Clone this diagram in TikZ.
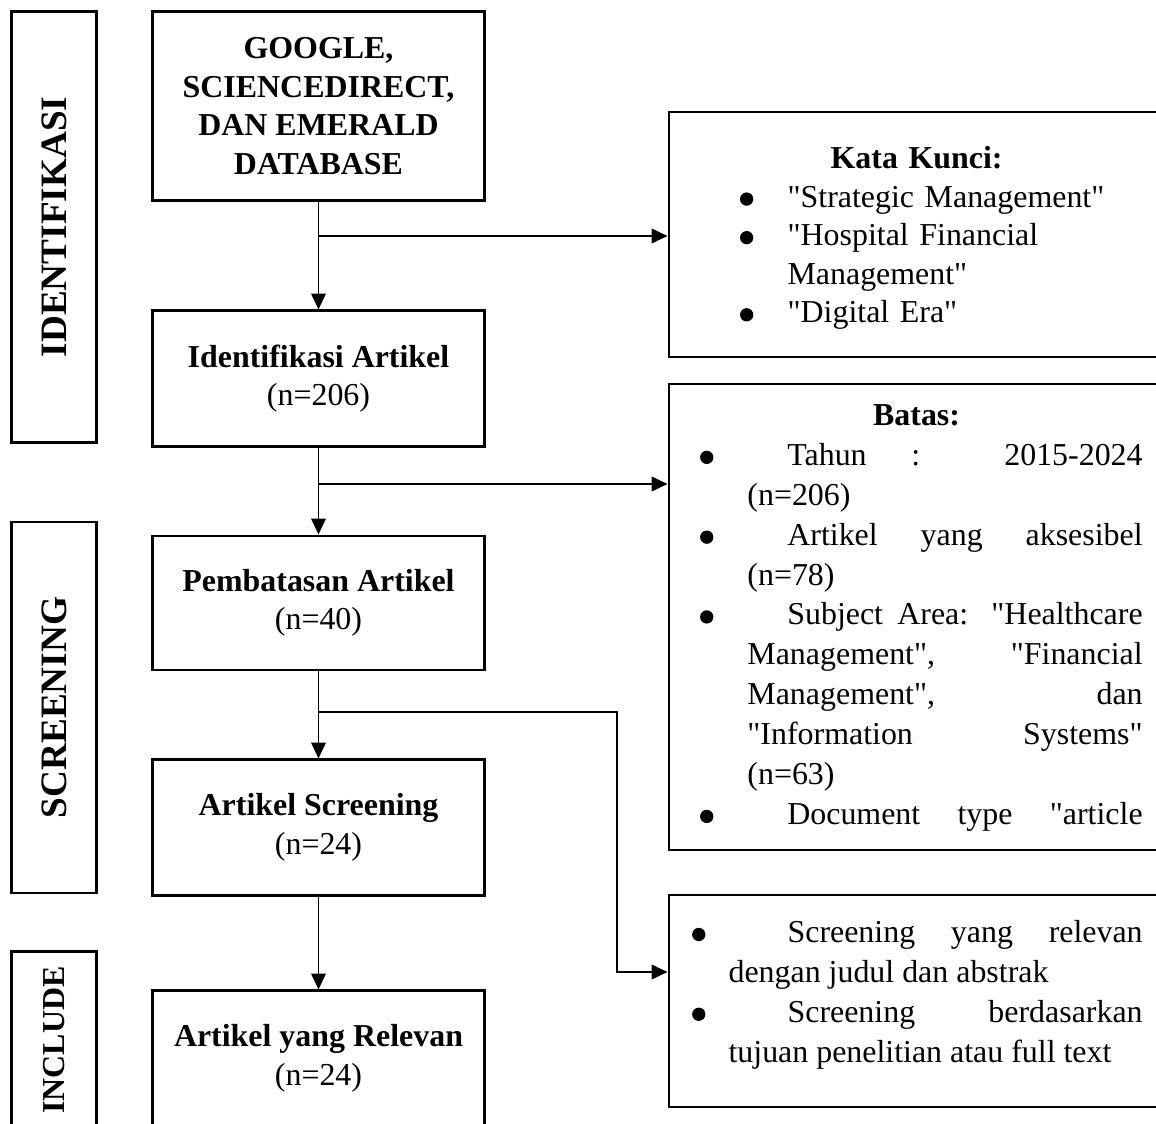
\documentclass[tikz,border=0pt]{standalone}
\usepackage{fontspec}
\setmainfont{Liberation Serif}[Ligatures=TeXOff]
\usetikzlibrary{arrows.meta}
\tikzset{
	kotak/.style={draw, line width=1.1pt, align=center, font=\fontsize{12}{14.5}\selectfont, minimum width=124.5pt, inner sep=0pt},
	fase/.style={draw, line width=1.1pt, rotate=90, font=\fontsize{14}{16}\selectfont\bfseries, minimum height=32.3pt, inner sep=0pt},
	bingkai/.style={draw, line width=1.1pt, minimum width=188.4pt, inner sep=0pt},
	isi/.style={anchor=north west, inner sep=0pt, text width=170pt, font=\fontsize{12}{15}\selectfont},
	panah/.style={line width=0.65pt, -{Triangle[length=6pt,width=5.5pt]}}
}
\newcommand{\titik}{\tikz[baseline=0pt]\fill (0pt,3pt) circle (2.5pt);}
\newcommand{\butir}[3]{\noindent\hangindent=#2\hangafter=1\makebox[#2][l]{\hspace*{#1}\titik}\hspace*{#3}\strut\ignorespaces}
\begin{document}
\begin{tikzpicture}[x=0.376pt, y=-0.376pt]
	\useasboundingbox (0,0) rectangle (1156,1124);
	\clip (0,0) rectangle (1156,1124);
	\node[fase, minimum width=162.4pt] at (54,227) (f1) {IDENTIFIKASI};
	\node[fase, minimum width=139.5pt] at (54,707.5) (f2) {SCREENING};
	\node[fase, minimum width=66.9pt, font=\fontsize{12}{14}\selectfont\bfseries] at (54,1040) (f3) {INCLUDE};
	\node[kotak, minimum height=71.4pt, font=\fontsize{12}{14.5}\selectfont\bfseries] at (318.5,106) (k1) {GOOGLE,\\SCIENCEDIRECT,\\DAN EMERALD\\DATABASE};
	\node[kotak, minimum height=50.8pt] at (318.5,378.5) (k2) {\textbf{Identifikasi Artikel}\\(n=206)};
	\node[kotak, minimum height=50.4pt] at (318.5,603) (k3) {\textbf{Pembatasan Artikel}\\(n=40)};
	\node[kotak, minimum height=50.8pt] at (318.5,827.5) (k4) {\textbf{Artikel Screening}\\(n=24)};
	\node[kotak, minimum height=50.8pt] at (318.5,1058.5) (k5) {\textbf{Artikel yang Relevan}\\(n=24)};
	\node[bingkai, minimum height=92.1pt] at (919.5,234.5) (kunci) {};
	\node[bingkai, minimum height=175.2pt] at (919.5,617) (batas) {};
	\node[bingkai, minimum height=79.7pt] at (919.5,1001) (saring) {};
	\node[isi, align=left, font=\fontsize{12}{14.5}\selectfont] at (690,141) (kunci-isi) {%
		{\centering\noindent\strut\textbf{Kata Kunci:}\par}
		\butir{18.6pt}{36.5pt}{0pt}"Strategic Management"\par
		\butir{18.6pt}{36.5pt}{0pt}"Hospital Financial\newline Management"\par
		\butir{18.6pt}{36.5pt}{0pt}"Digital Era"\par};
	\node[isi, align=justify] at (690,397) (batas-isi) {%
		{\centering\noindent\strut\textbf{Batas:}\par}
		\butir{3.6pt}{21.4pt}{15pt}Tahun : 2015-2024\linebreak (n=206)\par
		\butir{3.6pt}{21.4pt}{15pt}Artikel yang aksesibel\linebreak (n=78)\par
		\butir{3.6pt}{21.4pt}{15pt}Subject Area: "Healthcare\linebreak Management", "Financial\linebreak Management", dan\linebreak "Information Systems"\linebreak (n=63)\par
		\butir{3.6pt}{21.4pt}{15pt}{\parfillskip=0pt Document type "article\par}};
	\node[isi, align=justify] at (690,914) (saring-isi) {%
		\butir{0.6pt}{14.3pt}{22.2pt}Screening yang relevan\linebreak dengan judul dan abstrak\par
		\butir{0.6pt}{14.3pt}{22.2pt}Screening berdasarkan\linebreak tujuan penelitian atau full text\par};
	\coordinate (c1) at (318.5,236);
	\coordinate (c2) at (318.5,484);
	\coordinate (c3) at (318.5,712);
	\coordinate (c4) at (617,712);
	\coordinate (c5) at (617,972);
	\draw[panah] (k1) -- (k2);
	\draw[panah] (c1) -- (c1 -| kunci.west);
	\draw[panah] (k2) -- (k3);
	\draw[panah] (c2) -- (c2 -| batas.west);
	\draw[panah] (k3) -- (k4);
	\draw[panah] (c3) -- (c4) -- (c5) -- (c5 -| saring.west);
	\draw[panah] (k4) -- (k5);
\end{tikzpicture}
\end{document}
